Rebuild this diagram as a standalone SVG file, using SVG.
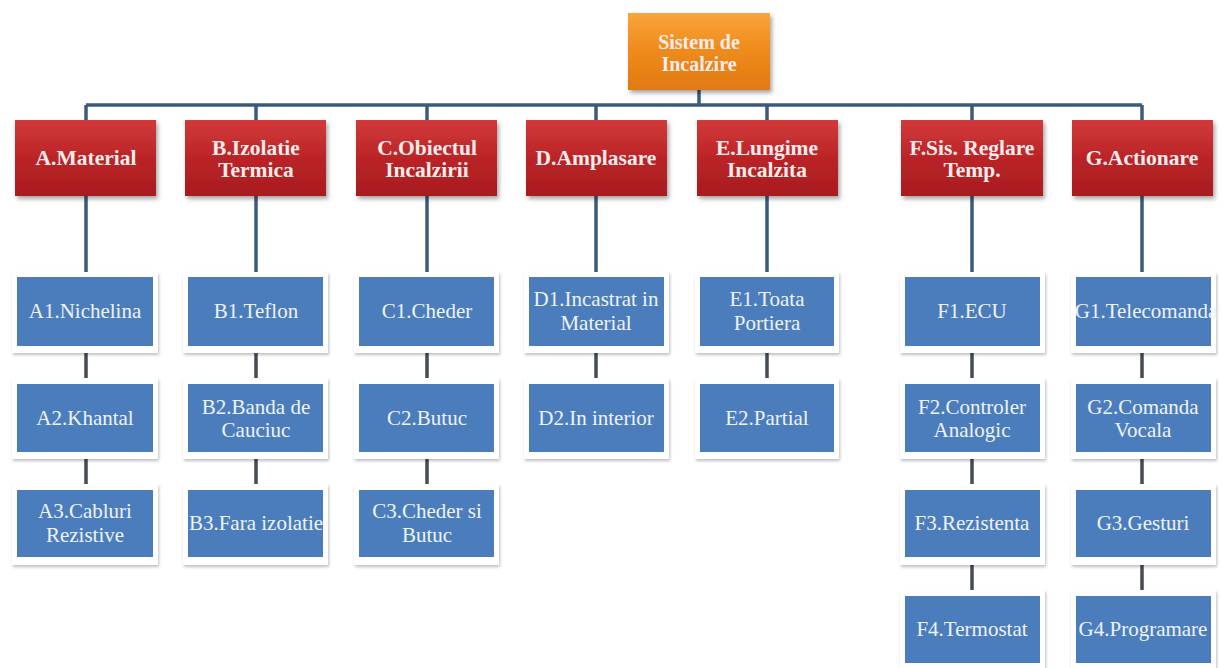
<svg xmlns="http://www.w3.org/2000/svg" width="1223" height="668" viewBox="0 0 1223 668">
<defs>
<linearGradient id="gRed" x1="0" y1="0" x2="0" y2="1">
<stop offset="0" stop-color="#d23a3a"/><stop offset="0.5" stop-color="#bb2427"/><stop offset="1" stop-color="#a81c1f"/>
</linearGradient>
<linearGradient id="gOrange" x1="0" y1="0" x2="0" y2="1">
<stop offset="0" stop-color="#f9a43a"/><stop offset="0.5" stop-color="#ef8a1c"/><stop offset="1" stop-color="#e07a12"/>
</linearGradient>
<filter id="sh" x="-10%" y="-10%" width="125%" height="130%">
<feDropShadow dx="2" dy="3" stdDeviation="2" flood-color="#000" flood-opacity="0.35"/>
</filter>
<filter id="shl" x="-10%" y="-10%" width="125%" height="130%">
<feDropShadow dx="1" dy="2" stdDeviation="1.5" flood-color="#000" flood-opacity="0.25"/>
</filter>
</defs>
<style>
.bus{stroke:#3c5b7c;stroke-width:3.5;fill:none}
.lnk{stroke:#454c56;stroke-width:3.5;fill:none}
.red{fill:url(#gRed);filter:url(#sh)}
.org{fill:url(#gOrange);filter:url(#sh)}
.frm{fill:#ffffff;filter:url(#shl)}
.blu{fill:#4b7dbd}
.th{font-family:"Liberation Serif","Times New Roman",serif;font-weight:bold;font-size:21.5px;fill:#f7ecec;text-anchor:middle}
.tr{font-family:"Liberation Serif","Times New Roman",serif;font-weight:bold;font-size:20px;fill:#f7ecec;text-anchor:middle}
.tb{font-family:"Liberation Serif","Times New Roman",serif;font-size:21px;fill:#eef3fa;text-anchor:middle}
</style>
<rect width="1223" height="668" fill="#ffffff"/>
<g id="connectors">
<path class="bus" d="M699 90V105M86 105H1142M86 105V120M256 105V120M427 105V120M596 105V120M767 105V120M972 105V120M1142 105V120"/>
<path class="bus" d="M86 196V272M256 196V272M427 196V272M596 196V272M767 196V272M972 196V272M1142 196V272"/>
<path class="lnk" d="M86 353V378M86 459V484M256 353V378M256 459V484M427 353V378M427 459V484M596 353V378M767 353V378M972 353V378M972 459V484M972 565V590M1142 353V378M1142 459V484M1142 565V590"/>
</g>
<g id="root"><rect class="org" x="628" y="13" width="142" height="77"/><text class="tr" x="699" y="49">Sistem de</text><text class="tr" x="699" y="71">Incalzire</text></g>
<g id="A"><rect class="red" x="15" y="120" width="141" height="76"/><text class="th" x="86" y="165">A.Material</text></g>
<g id="B"><rect class="red" x="185" y="120" width="141" height="76"/><text class="th" x="256" y="155">B.Izolatie</text><text class="th" x="256" y="177">Termica</text></g>
<g id="C"><rect class="red" x="356" y="120" width="141" height="76"/><text class="th" x="427" y="155">C.Obiectul</text><text class="th" x="427" y="177">Incalzirii</text></g>
<g id="D"><rect class="red" x="526" y="120" width="141" height="76"/><text class="th" x="596" y="165">D.Amplasare</text></g>
<g id="E"><rect class="red" x="697" y="120" width="141" height="76"/><text class="th" x="767" y="155">E.Lungime</text><text class="th" x="767" y="177">Incalzita</text></g>
<g id="F"><rect class="red" x="901" y="120" width="142" height="76"/><text class="th" x="972" y="155">F.Sis. Reglare</text><text class="th" x="972" y="177">Temp.</text></g>
<g id="G"><rect class="red" x="1072" y="120" width="141" height="76"/><text class="th" x="1142" y="165">G.Actionare</text></g>

<g id="A1"><rect class="frm" x="12" y="272" width="146" height="81"/><rect class="blu" x="17" y="277" width="136" height="69"/><text class="tb" x="85" y="318">A1.Nichelina</text></g>
<g id="A2"><rect class="frm" x="12" y="378" width="146" height="81"/><rect class="blu" x="17" y="384" width="136" height="68"/><text class="tb" x="85" y="425">A2.Khantal</text></g>
<g id="A3"><rect class="frm" x="12" y="484" width="146" height="81"/><rect class="blu" x="17" y="490" width="136" height="67"/><text class="tb" x="85" y="518">A3.Cabluri</text><text class="tb" x="85" y="542">Rezistive</text></g>

<g id="B1"><rect class="frm" x="183" y="272" width="145" height="81"/><rect class="blu" x="188" y="277" width="135" height="69"/><text class="tb" x="256" y="318">B1.Teflon</text></g>
<g id="B2"><rect class="frm" x="183" y="378" width="145" height="81"/><rect class="blu" x="188" y="384" width="135" height="68"/><text class="tb" x="256" y="414">B2.Banda de</text><text class="tb" x="256" y="437">Cauciuc</text></g>
<g id="B3"><rect class="frm" x="183" y="484" width="145" height="81"/><rect class="blu" x="188" y="490" width="135" height="67"/><text class="tb" x="256" y="530">B3.Fara izolatie</text></g>

<g id="C1"><rect class="frm" x="354" y="272" width="145" height="81"/><rect class="blu" x="359" y="277" width="135" height="69"/><text class="tb" x="427" y="318">C1.Cheder</text></g>
<g id="C2"><rect class="frm" x="354" y="378" width="145" height="81"/><rect class="blu" x="359" y="384" width="135" height="68"/><text class="tb" x="427" y="425">C2.Butuc</text></g>
<g id="C3"><rect class="frm" x="354" y="484" width="145" height="81"/><rect class="blu" x="359" y="490" width="135" height="67"/><text class="tb" x="427" y="518">C3.Cheder si</text><text class="tb" x="427" y="542">Butuc</text></g>

<g id="D1"><rect class="frm" x="524" y="272" width="145" height="81"/><rect class="blu" x="529" y="277" width="135" height="69"/><text class="tb" x="596" y="306">D1.Incastrat in</text><text class="tb" x="596" y="330">Material</text></g>
<g id="D2"><rect class="frm" x="524" y="378" width="145" height="81"/><rect class="blu" x="529" y="384" width="135" height="68"/><text class="tb" x="596" y="425">D2.In interior</text></g>

<g id="E1"><rect class="frm" x="695" y="272" width="144" height="81"/><rect class="blu" x="700" y="277" width="134" height="69"/><text class="tb" x="767" y="306">E1.Toata</text><text class="tb" x="767" y="330">Portiera</text></g>
<g id="E2"><rect class="frm" x="695" y="378" width="144" height="81"/><rect class="blu" x="700" y="384" width="134" height="68"/><text class="tb" x="767" y="425">E2.Partial</text></g>

<g id="F1"><rect class="frm" x="900" y="272" width="145" height="81"/><rect class="blu" x="905" y="277" width="135" height="69"/><text class="tb" x="972" y="318">F1.ECU</text></g>
<g id="F2"><rect class="frm" x="900" y="378" width="145" height="81"/><rect class="blu" x="905" y="384" width="135" height="68"/><text class="tb" x="972" y="414">F2.Controler</text><text class="tb" x="972" y="437">Analogic</text></g>
<g id="F3"><rect class="frm" x="900" y="484" width="145" height="81"/><rect class="blu" x="905" y="490" width="135" height="67"/><text class="tb" x="972" y="530">F3.Rezistenta</text></g>
<g id="F4"><rect class="frm" x="900" y="590" width="145" height="78"/><rect class="blu" x="905" y="596" width="135" height="67"/><text class="tb" x="972" y="636">F4.Termostat</text></g>

<g id="G1"><rect class="frm" x="1071" y="272" width="145" height="81"/><rect class="blu" x="1076" y="277" width="135" height="69"/><text class="tb" x="1146" y="318">G1.Telecomanda</text></g>
<g id="G2"><rect class="frm" x="1071" y="378" width="145" height="81"/><rect class="blu" x="1076" y="384" width="135" height="68"/><text class="tb" x="1143" y="414">G2.Comanda</text><text class="tb" x="1143" y="437">Vocala</text></g>
<g id="G3"><rect class="frm" x="1071" y="484" width="145" height="81"/><rect class="blu" x="1076" y="490" width="135" height="67"/><text class="tb" x="1143" y="530">G3.Gesturi</text></g>
<g id="G4"><rect class="frm" x="1071" y="590" width="145" height="78"/><rect class="blu" x="1076" y="596" width="135" height="67"/><text class="tb" x="1143" y="636">G4.Programare</text></g>
</svg>
